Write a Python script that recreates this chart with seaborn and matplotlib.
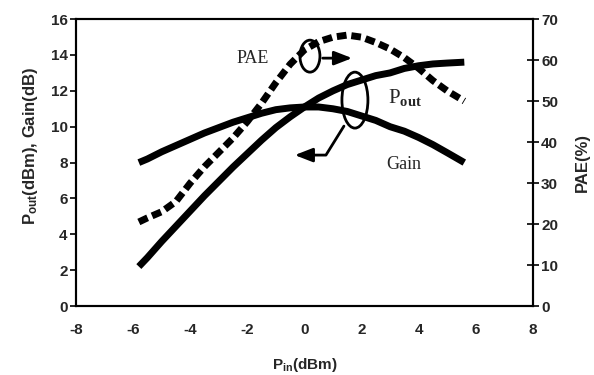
import matplotlib
matplotlib.use("Agg")
import matplotlib.pyplot as plt
import seaborn as sns
import pandas as pd
from matplotlib.patches import Ellipse

pin = [-5.8, -5.5, -5, -4.5, -4, -3.5, -3, -2.5, -2, -1.5, -1, -0.5,
       0, 0.5, 1, 1.5, 2, 2.5, 3, 3.5, 4, 4.5, 5, 5.6]
pout = [2.2, 2.7, 3.6, 4.45, 5.3, 6.15, 6.95, 7.75, 8.5, 9.25, 9.95, 10.55,
        11.1, 11.6, 12.0, 12.35, 12.6, 12.85, 13.0, 13.25, 13.4, 13.5, 13.55, 13.6]
gain = [8.0, 8.2, 8.6, 8.95, 9.3, 9.65, 9.95, 10.25, 10.5, 10.75, 10.95, 11.05,
        11.1, 11.1, 11.0, 10.85, 10.6, 10.35, 10.0, 9.75, 9.4, 9.0, 8.55, 8.0]
pae = [20.5, 21.5, 23.0, 25.5, 30.0, 34.0, 37.5, 41.0, 45.0, 49.5, 54.5, 59.0,
       62.5, 64.5, 65.6, 66.1, 65.6, 64.3, 62.7, 60.6, 58.0, 55.0, 52.5, 50.0]

xticks = [-8, -6, -4, -2, 0, 2, 4, 6, 8]
lticks = [0, 2, 4, 6, 8, 10, 12, 14, 16]
rticks = [0, 10, 20, 30, 40, 50, 60, 70]

df = pd.DataFrame({"pin": pin, "pout": pout, "gain": gain, "pae": pae})

sns.set_theme(style="white")
plt.rcParams['font.family'] = ['Liberation Sans', 'DejaVu Sans']
plt.rcParams['mathtext.fontset'] = 'custom'
plt.rcParams['mathtext.rm'] = 'Liberation Serif'
plt.rcParams['mathtext.bf'] = 'Liberation Sans:bold'
plt.rcParams['mathtext.it'] = 'Liberation Serif:bold'

fig = plt.figure(figsize=(5.94, 3.75), dpi=100)
ax = fig.add_axes([0.128, 0.184, 0.769, 0.765])
ax2 = ax.twinx()

sns.lineplot(data=df, x="pin", y="pout", ax=ax, color="black", lw=5, solid_capstyle="butt")
sns.lineplot(data=df, x="pin", y="gain", ax=ax, color="black", lw=5, solid_capstyle="butt")
sns.lineplot(data=df, x="pin", y="pae", ax=ax2, color="black", lw=5)
ax2.lines[0].set_linestyle((0, (1.4, 0.7)))

ax.set_xlim(-8, 8)
ax.set_ylim(0, 16)
ax2.set_ylim(0, 70)
ax.set_xticks(xticks)
ax.set_yticks(lticks)
ax2.set_yticks(rticks)
ax.set_xticklabels([str(v) for v in xticks], fontsize=11, fontweight="bold")
ax.set_yticklabels([str(v) for v in lticks], fontsize=11, fontweight="bold")
ax2.set_yticklabels([str(v) for v in rticks], fontsize=11, fontweight="bold")

for a in (ax, ax2):
    for s in a.spines.values():
        s.set_color("black")
        s.set_linewidth(1.5)
ax.tick_params(axis="x", direction="out", length=4, width=1.2, color="black", pad=8)
ax.tick_params(axis="y", direction="out", length=4, width=1.2, color="black", pad=2)
ax2.tick_params(axis="y", direction="inout", length=8, width=1.2, color="black", pad=2)

ax.set_xlabel(r"$\mathbf{P_{in}}$(dBm)", fontsize=11, fontweight="bold", labelpad=14)
ax.set_ylabel(r"$\mathbf{P_{out}}$(dBm), Gain(dB)", fontsize=12, fontweight="bold")
ax.yaxis.set_label_coords(-0.078, 0.56)
ax2.set_ylabel("PAE(%)", fontsize=12, fontweight="bold")
ax2.yaxis.set_label_coords(1.092, 0.5)

def dx(px):
    return (px - 76) / 28.56 - 8

def dy(py):
    return (306 - py) / 17.94

# annotations
ax.text(dx(253), dy(58), "PAE", fontsize=13, family="Liberation Serif", ha="center", va="center")
ax.text(dx(405), dy(97), r"$\mathrm{P}_{\mathit{out}}$", fontsize=15, ha="center", va="center")
ax.text(dx(404), dy(164), "Gain", fontsize=13, family="Liberation Serif", ha="center", va="center")

e1 = Ellipse((dx(310), dy(56)), 20 / 28.56, 32 / 17.94, fill=False, ec="black", lw=2)
e2 = Ellipse((dx(355), dy(100)), 26 / 28.56, 56 / 17.94, fill=False, ec="black", lw=2)
ax.add_patch(e1)
ax.add_patch(e2)
ax.annotate("", xy=(dx(355), dy(58)), xytext=(dx(320), dy(58)),
            arrowprops=dict(arrowstyle="-|>,head_length=0.9,head_width=0.35", color="black", lw=2))
ax.plot([dx(344), dx(326), dx(310)], [dy(126), dy(155), dy(155)], color="black", lw=2)
ax.annotate("", xy=(dx(292), dy(155)), xytext=(dx(312), dy(155)),
            arrowprops=dict(arrowstyle="-|>,head_length=0.9,head_width=0.35", color="black", lw=2))

fig.savefig("out.png", dpi=100)
